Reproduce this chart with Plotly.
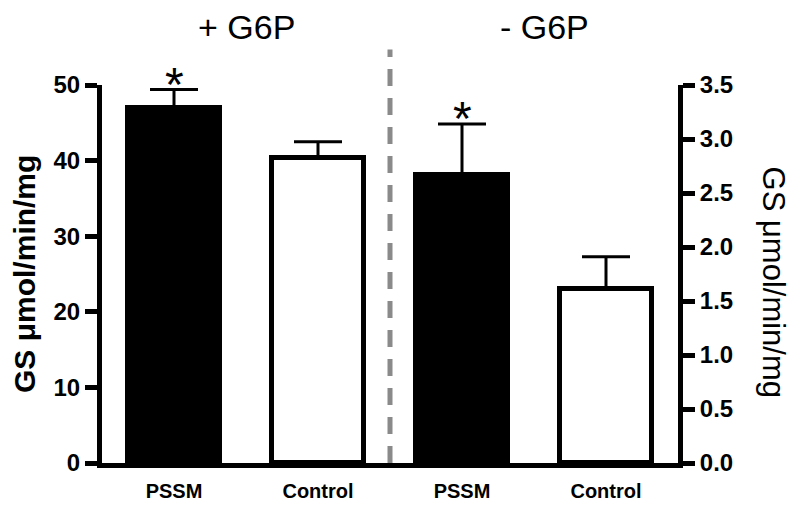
import plotly.graph_objects as go

# ---- data ----
categories = ["PSSM", "Control", "PSSM", "Control"]
plus_g6p_values = [47.0, 40.3]        # left axis, µmol/min/mg
plus_g6p_errors = [2.4, 2.2]
minus_g6p_values = [2.67, 1.61]       # right axis, µmol/min/mg
minus_g6p_errors = [0.47, 0.30]
left_ticks = [0, 10, 20, 30, 40, 50]
right_ticks = [0.0, 0.5, 1.0, 1.5, 2.0, 2.5, 3.0, 3.5]
group_titles = ["+ G6P", "- G6P"]
axis_title = "GS μmol/min/mg"

FONT = "Liberation Sans, Arial, Helvetica, sans-serif"
fill_colors = ["black", "white"]
xpos = list(range(len(categories)))

fig = go.Figure()
err_style = dict(type="data", symmetric=False, color="black", thickness=3, width=24)

fig.add_trace(go.Bar(
    x=xpos[:2], y=plus_g6p_values, width=0.645,
    marker=dict(color=fill_colors, line=dict(color="black", width=5)),
    error_y=dict(array=plus_g6p_errors, arrayminus=[0, 0], **err_style),
    yaxis="y", showlegend=False, hoverinfo="skip",
))
fig.add_trace(go.Bar(
    x=xpos[2:], y=minus_g6p_values, width=0.645,
    marker=dict(color=fill_colors, line=dict(color="black", width=5)),
    error_y=dict(array=minus_g6p_errors, arrayminus=[0, 0], **err_style),
    yaxis="y2", showlegend=False, hoverinfo="skip",
))

# significance asterisks on PSSM bars
fig.add_annotation(x=xpos[0], y=plus_g6p_values[0] + plus_g6p_errors[0], yref="y",
                   text="*", showarrow=False, yanchor="bottom", yshift=-23,
                   font=dict(family=FONT, size=48, color="black"))
fig.add_annotation(x=xpos[2], y=minus_g6p_values[0] + minus_g6p_errors[0], yref="y2",
                   text="*", showarrow=False, yanchor="bottom", yshift=-23,
                   font=dict(family=FONT, size=48, color="black"))

# group titles
fig.add_annotation(x=0.5, y=1, xref="x", yref="paper", yshift=58, yanchor="middle",
                   text=group_titles[0], showarrow=False,
                   font=dict(family=FONT, size=34, color="black"))
fig.add_annotation(x=2.57, y=1, xref="x", yref="paper", yshift=58, yanchor="middle",
                   text=group_titles[1], showarrow=False,
                   font=dict(family=FONT, size=34, color="black"))

# axis titles
fig.add_annotation(x=0, y=0.5, xref="paper", yref="paper", xshift=-78,
                   xanchor="center", yanchor="middle", textangle=-90,
                   text=axis_title, showarrow=False,
                   font=dict(family=FONT, size=30, color="black", weight="bold"))
fig.add_annotation(x=1, y=0.48, xref="paper", yref="paper", xshift=95,
                   xanchor="center", yanchor="middle", textangle=90,
                   text=axis_title, showarrow=False,
                   font=dict(family=FONT, size=31, color="black"))

# dashed divider
fig.add_shape(type="line", xref="x", yref="paper", x0=1.5, x1=1.5, y0=0, y1=1.094,
              line=dict(color="#8a8a8a", width=5, dash="17px,12px"))

fig.update_layout(
    width=800, height=514,
    margin=dict(l=102, r=122, t=85, b=46),
    plot_bgcolor="white", paper_bgcolor="white",
    bargap=0, hovermode=False,
    xaxis=dict(range=[-0.5, 3.5], tickvals=xpos, ticktext=categories,
               showline=True, linecolor="black", linewidth=5, ticks="",
               showgrid=False, zeroline=False, ticklabelstandoff=6,
               tickfont=dict(family=FONT, size=20, color="black", weight="bold")),
    yaxis=dict(range=[0, 50], tickvals=left_ticks, showline=True, linecolor="black",
               linewidth=5, ticks="outside", ticklen=12, tickwidth=5, tickcolor="black",
               showgrid=False, zeroline=False,
               tickfont=dict(family=FONT, size=24, color="black", weight="bold")),
    yaxis2=dict(range=[0, 3.5], tickvals=right_ticks, tickformat=".1f", overlaying="y",
                side="right", showline=True, linecolor="black", linewidth=5,
                ticks="outside", ticklen=12, tickwidth=5, tickcolor="black",
                showgrid=False, zeroline=False,
                tickfont=dict(family=FONT, size=24, color="black", weight="bold")),
)

fig.write_html("out.html", config={"displayModeBar": False},
               post_script="document.body.style.margin='0px';")
